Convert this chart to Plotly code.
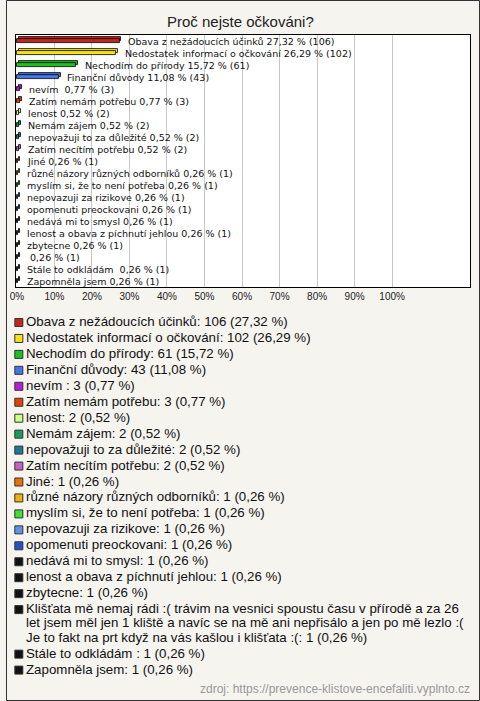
import plotly.graph_objects as go

# ---------------- data ----------------
categories = [
    "Obava z nežádoucích účinků",
    "Nedostatek informací o očkování",
    "Nechodím do přírody",
    "Finanční důvody",
    "nevím ",
    "Zatím nemám potřebu",
    "lenost",
    "Nemám zájem",
    "nepovažuji to za důležité",
    "Zatím necítím potřebu",
    "Jiné",
    "různé názory různých odborníků",
    "myslím si, že to není potřeba",
    "nepovazuji za rizikove",
    "opomenuti preockovani",
    "nedává mi to smysl",
    "lenost a obava z píchnutí jehlou",
    "zbytecne",
    "Klišťata mě nemaj rádi :( trávim na vesnici spoustu času v přírodě a za 26\n"
    "let jsem měl jen 1 kliště a navíc se na mě ani nepřisálo a jen po mě lezlo :(\n"
    "Je to fakt na prt když na vás kašlou i klišťata :(",
    "Stále to odkládám ",
    "Zapomněla jsem",
]
counts = [106, 102, 61, 43, 3, 3, 2, 2, 2, 2, 1, 1, 1, 1, 1, 1, 1, 1, 1, 1, 1]
percents = [27.32, 26.29, 15.72, 11.08, 0.77, 0.77, 0.52, 0.52, 0.52, 0.52,
            0.26, 0.26, 0.26, 0.26, 0.26, 0.26, 0.26, 0.26, 0.26, 0.26, 0.26]
colors = ["#c1271b", "#f6e21c", "#1fbf1f", "#4676e4", "#b41fd6", "#e2420e",
          "#ccff88", "#1a9a5c", "#1b7a92", "#c262c2", "#e8720e", "#e8b212",
          "#42e032", "#6492e2", "#2452c4", "#111111", "#111111", "#111111",
          "#111111", "#111111", "#111111"]
hidden_bar_names = [18]  # category whose name is not printed beside its bar
tick_values = [0, 10, 20, 30, 40, 50, 60, 70, 80, 90, 100]
tick_labels = ["0%", "10%", "20%", "30%", "40%", "50%", "60%", "70%", "80%", "90%", "100%"]
title_text = "Proč nejste očkováni?"
source_text = "zdroj: https://prevence-klistove-encefaliti.vyplnto.cz"

# ---------------- figure ----------------
W, H = 480, 701
FONT = "Liberation Sans, Arial, sans-serif"
SMALL_FONT = "DejaVu Sans, Verdana, sans-serif"
BG = "#f5f4ef"

def fmt(p):
    return f"{p:.2f}".replace(".", ",")

def nb(s):
    return s.replace(" ", "\u00a0")

def px_x(px):
    return px / W

def px_y(py):
    return 1 - py / H

n = len(categories)
idx = list(range(n))

# plot area in pixels
PL, PR, PT, PB = 10, 470, 35, 287
x_zero_px, px_per_pct = 11, 3.8
x_range = [(PL - x_zero_px) / px_per_pct, (PR - x_zero_px) / px_per_pct]
row_px = (PB - PT) / n
depth_x = 2 / px_per_pct
depth_y = 2 / row_px
bar_w = 4 / row_px

# legend region (pixels)
LT = 306
LEG_STEP, LEG_LINE = 15.95, 14.3

fig = go.Figure()

# back (depth) bars
fig.add_trace(go.Bar(
    y=idx, x=percents, base=depth_x, orientation="h",
    width=bar_w, offset=-bar_w / 2 - depth_y,
    marker=dict(color=colors, line=dict(color="#000000", width=0.8)),
    hoverinfo="skip", showlegend=False, xaxis="x", yaxis="y",
))
# front bars
fig.add_trace(go.Bar(
    y=idx, x=percents, base=0, orientation="h",
    width=bar_w, offset=-bar_w / 2,
    marker=dict(color=colors, line=dict(color="#000000", width=0.8)),
    hoverinfo="skip", showlegend=False, xaxis="x", yaxis="y",
))

annotations = []
for i, (name, c, p) in enumerate(zip(categories, counts, percents)):
    label_name = "" if i in hidden_bar_names else name
    annotations.append(dict(
        x=p, y=i, xref="x", yref="y", xanchor="left", yanchor="middle",
        xshift=7, showarrow=False,
        text=nb(f"{label_name} {fmt(p)} % ({c})"),
        font=dict(family=SMALL_FONT, size=9.5, color="#111111"),
    ))

# legend (own pixel-scaled axis pair below the chart)
leg_y = []
y = 321.5
for name in categories:
    leg_y.append(y)
    y += LEG_STEP + LEG_LINE * name.count("\n")

fig.add_trace(go.Scatter(
    x=[13] * n, y=[v + 1 for v in leg_y], mode="markers",
    marker=dict(symbol="square", size=8, color=colors,
                line=dict(color="#333333", width=1)),
    hoverinfo="skip", showlegend=False, xaxis="x2", yaxis="y2", cliponaxis=False,
))
for name, c, p, ly in zip(categories, counts, percents, leg_y):
    lines = f"{name}: {c} ({fmt(p)} %)".split("\n")
    for k, line in enumerate(lines):
        annotations.append(dict(
            x=18, y=ly + LEG_LINE * k, xref="x2", yref="y2",
            xanchor="left", yanchor="middle", showarrow=False,
            text=nb(line), font=dict(family=FONT, size=13.3, color="#111111"),
        ))

annotations.append(dict(
    x=px_x(237), y=px_y(21), xref="paper", yref="paper",
    xanchor="center", yanchor="middle", showarrow=False, text=title_text,
    font=dict(family=FONT, size=15, color="#222222"),
))
annotations.append(dict(
    x=px_x(472), y=px_y(689), xref="paper", yref="paper",
    xanchor="right", yanchor="middle", showarrow=False, text=source_text,
    font=dict(family=FONT, size=12, color="#999999"),
))

shapes = [
    dict(type="rect", xref="x domain", yref="y domain", x0=0, x1=1, y0=0, y1=1,
         fillcolor="#ffffff", line=dict(width=0), layer="below"),
    dict(type="rect", xref="paper", yref="paper",
         x0=px_x(0.5), x1=px_x(W - 0.5), y0=px_y(0.5), y1=px_y(H - 0.5),
         fillcolor="rgba(0,0,0,0)", line=dict(color="#333333", width=1), layer="above"),
]

fig.update_layout(
    width=W, height=H, autosize=False,
    margin=dict(l=0, r=0, t=0, b=0, pad=0),
    paper_bgcolor=BG, plot_bgcolor=BG,
    barmode="overlay", bargap=0,
    showlegend=False,
    annotations=annotations, shapes=shapes,
    xaxis=dict(
        domain=[PL / W, PR / W], range=x_range, anchor="y",
        tickvals=tick_values, ticktext=tick_labels,
        showgrid=True, gridcolor="#c8c8c8", gridwidth=1, zeroline=False,
        showline=True, linecolor="#000000", linewidth=1, mirror=True,
        ticks="", tickfont=dict(family=FONT, size=10, color="#222222"),
        fixedrange=True,
    ),
    yaxis=dict(
        domain=[(H - PB) / H, (H - PT) / H], range=[n - 0.5, -0.5], anchor="x",
        showticklabels=False, showgrid=False, zeroline=False, ticks="",
        showline=True, linecolor="#000000", linewidth=1, mirror=True,
        fixedrange=True,
    ),
    xaxis2=dict(domain=[0, 1], range=[0, W], anchor="y2", visible=False, fixedrange=True),
    yaxis2=dict(domain=[0, (H - LT) / H], range=[H, LT], anchor="x2",
                visible=False, fixedrange=True),
)

fig.write_html(
    "out.html",
    config={"displayModeBar": False},
    post_script="document.body.style.margin='0';document.body.style.overflow='hidden';",
)
